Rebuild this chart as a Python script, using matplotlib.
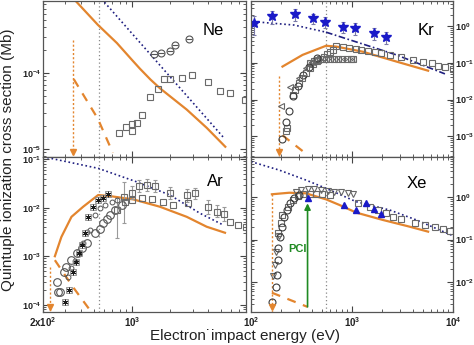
import matplotlib
matplotlib.use('Agg')
import matplotlib.pyplot as plt
from matplotlib.ticker import LogLocator, NullFormatter

plt.rcParams['font.family'] = ['Liberation Sans', 'DejaVu Sans']
plt.rcParams['mathtext.fontset'] = 'custom'
plt.rcParams['mathtext.rm'] = 'Liberation Sans'
plt.rcParams['mathtext.bf'] = 'Liberation Sans:bold'

ORANGE = '#e3852e'
NAVY = '#1f1f80'
BLUE = '#1a1ac8'
SQ_GRAY = '#6a6a6a'
DARK = '#3c3c3c'
GREEN = '#1f8a22'
E_MARK = 550          # gray dotted reference energy (eV)

# ---------------- Ne ----------------
ne_thr, ne_thr_top = 345, 2.7e-4
ne_solid_E = [330, 356, 540, 762, 1000, 1156, 1400, 1661, 2700, 3875, 5430]
ne_solid_s = [1.15e-3, 9.1e-4, 4.3e-4, 2.48e-4, 1.49e-4, 1.14e-4, 8.2e-5, 6.3e-5, 3.3e-5, 1.9e-5, 1.07e-5]
ne_dash_E = [349, 540, 708]
ne_dash_s = [8.3e-5, 2.5e-5, 8.9e-6]
ne_dot_E = [560, 5210]
ne_dot_s = [1.0e-3, 1.44e-5]
ne_circ_E = [1489, 1692, 1991, 2181, 2814]
ne_circ_s = [1.78e-4, 1.83e-4, 1.95e-4, 2.33e-4, 2.8e-4]
ne_sq_E = [794, 897, 995, 995, 1089, 1191, 1386, 1593, 1787, 1991, 2489, 2986, 3990, 4930, 5910, 7760]
ne_sq_s = [1.64e-5, 1.93e-5, 2.13e-5, 1.74e-5, 2.22e-5, 2.8e-5, 4.87e-5, 6.1e-5, 8.26e-5, 8.3e-5,
           8.7e-5, 9.4e-5, 7.5e-5, 5.85e-5, 5.5e-5, 4.4e-5]

# ---------------- Kr ----------------
kr_thr, kr_thr_top = 190, 0.043
kr_star_E = [107, 161, 270, 408, 545, 823, 1083, 1637, 2188]
kr_star_s = [1.23, 1.86, 2.11, 1.61, 1.31, 0.96, 0.87, 0.64, 0.50]
kr_star_err = [0.65, 0.7, 0.7, 0.5, 0.4, 0.33, 0.3, 0.22, 0.17]
kr_dot_E = [107, 268, 553]
kr_dot_s = [1.31, 1.06, 0.68]
kr_dd_E = [553, 2750, 8320]
kr_dd_s = [0.68, 0.164, 0.050]
kr_solid_E = [205, 324, 553, 697, 1279, 2754, 5670]
kr_solid_s = [0.079, 0.164, 0.29, 0.276, 0.20, 0.108, 0.061]
kr_dash_E = [205, 324]
kr_dash_s = [1.07e-3, 4.0e-4]
kr_sq_E = [697, 810, 944, 1101, 1235, 1437, 1675, 1954, 2363, 3090, 4030, 5060, 6140, 7140, 8320, 10070]
kr_sq_s = [0.294, 0.276, 0.259, 0.234, 0.225, 0.211, 0.195, 0.183, 0.165, 0.148, 0.12, 0.108,
           0.098, 0.083, 0.079, 0.069]
kr_sq2_E = [221, 226, 258, 274, 300, 322, 353, 386, 414, 454, 486, 532, 570, 612, 654]
kr_sq2_s = [1.4e-3, 1.7e-3, 0.0137, 0.0186, 0.0288, 0.039, 0.054, 0.073, 0.094, 0.113, 0.128,
            0.145, 0.175, 0.198, 0.224]
kr_circ_E = [205, 224, 239, 262, 289, 329, 378, 447]
kr_circ_s = [8.3e-4, 2.5e-3, 4.8e-3, 0.0123, 0.0229, 0.0474, 0.079, 0.134]
kr_tri_E = [198, 244, 296, 350, 405]
kr_tri_s = [6.6e-3, 0.022, 0.0386, 0.072, 0.106]
kr_xsq_E = [380, 420, 460, 505, 555, 610, 670, 735, 805, 885, 970, 1030]
kr_xsq_s = [0.1, 0.115, 0.122, 0.126, 0.127, 0.127, 0.127, 0.127, 0.127, 0.127, 0.127, 0.127]

# ---------------- Ar ----------------
ar_thr, ar_thr_top = 226, 6.1e-4
ar_dot_E = [200, 543, 1089, 1991, 3430, 5240]
ar_dot_s = [0.113, 0.065, 0.0343, 0.0183, 7.7e-3, 4.4e-3]
ar_solid_E = [248, 279, 335, 414, 543, 671, 1024, 1660, 2700, 3875, 5400]
ar_solid_s = [1.0e-3, 2.5e-3, 6.5e-3, 0.0105, 0.0183, 0.0174, 0.0149, 0.0105, 6.5e-3, 4.06e-3, 3.05e-3]
ar_dash_E = [248, 345, 467]
ar_dash_s = [8.3e-4, 2.3e-4, 7.8e-5]
ar_sqA_E = [758, 865, 995, 1141, 1305, 1518, 1991, 2700, 3130, 3990, 4650, 5300]
ar_sqA_s = [9.0e-3, 0.0169, 0.0198, 0.028, 0.0294, 0.028, 0.0198, 0.0183, 0.0198, 0.0105, 8.3e-3, 7.3e-3]
ar_sqA_lo = [0.0066, 0.012, 0.005, 0.007, 0.007, 0.007, 0.005, 0.005, 0.005, 0.003, 0.002, 0.002]
ar_sqA_hi = [0.0070, 0.017, 0.008, 0.009, 0.009, 0.009, 0.007, 0.006, 0.006, 0.004, 0.003, 0.003]
ar_sqB_E = [881, 995, 1191, 1429, 1763, 2113, 2775, 5910, 6870, 7900]
ar_sqB_s = [0.0133, 0.0144, 0.0156, 0.0149, 0.0133, 0.0114, 0.0123, 5.1e-3, 4.5e-3, 4.0e-3]
ar_circ_E = [258, 263, 274, 290, 306, 335, 367, 402, 440, 511, 560, 594, 632, 671, 735, 830]
ar_circ_s = [3.0e-4, 1.8e-4, 1.8e-4, 4.8e-4, 6.1e-4, 8.4e-4, 1.15e-3, 1.46e-3, 1.85e-3, 2.97e-3,
             3.6e-3, 4.8e-3, 5.8e-3, 7.1e-3, 9.0e-3, 0.0114]
ar_ast_E = [297, 321, 345, 362, 385, 402, 427, 453, 496, 543, 594, 651]
ar_ast_s = [1.15e-4, 2.0e-4, 4.8e-4, 7.6e-4, 1.15e-3, 1.7e-3, 3.0e-3, 6.5e-3, 0.0105, 0.0144, 0.0156, 0.0189]
ar_sc_E = [315, 335, 356, 381, 409, 440, 468, 511, 560, 616, 692, 766]
ar_sc_s = [3.8e-4, 5.6e-4, 7.9e-4, 1.1e-3, 1.85e-3, 3.1e-3, 3.5e-3, 7.1e-3, 9.7e-3, 0.0114, 0.0133, 0.0144]

# ---------------- Xe ----------------
xe_thr, xe_thr_top = 161, 1.16
xe_dot_E = [100, 190, 350, 553, 1100, 2360, 4350, 9800]
xe_dot_s = [6.8, 4.3, 2.5, 1.6, 0.775, 0.494, 0.288, 0.125]
xe_solid_E = [161, 239, 350, 553, 751, 1100, 2024, 3730, 5670]
xe_solid_s = [1.16, 1.26, 1.22, 0.88, 0.65, 0.43, 0.288, 0.2, 0.153]
xe_dash_E = [161, 363]
xe_dash_s = [5.6e-3, 2.6e-3]
xe_pci_E, xe_pci_lo, xe_pci_hi = 363, 2.6e-3, 0.71
xe_btri_E = [364, 841, 1100, 1362, 1637, 1950]
xe_btri_s = [0.93, 0.65, 0.494, 0.71, 0.51, 0.40]
xe_sq_E = [1143, 1493, 1806, 2188, 2546, 3090, 4190, 5260, 6620, 8000, 9330]
xe_sq_s = [0.73, 0.59, 0.494, 0.41, 0.333, 0.30, 0.24, 0.22, 0.2, 0.177, 0.161]
xe_sq2_E = [186, 197, 205, 230, 258, 289, 330, 380, 440, 510, 600]
xe_sq2_s = [0.14, 0.24, 0.377, 0.59, 0.85, 1.05, 1.15, 1.18, 1.18, 1.15, 1.1]
xe_dtri_E = [166, 172, 178, 190, 278, 312, 363, 424, 494, 575, 670, 781, 909, 1018]
xe_dtri_s = [0.0139, 0.025, 0.05, 0.12, 1.33, 1.46, 1.52, 1.52, 1.46, 1.41, 1.33, 1.29, 1.22, 1.16]
xe_circ_E = [163, 176, 180, 184, 187, 193, 202, 213, 225, 243, 268, 300]
xe_circ_s = [3.4e-3, 7.8e-3, 0.0146, 0.033, 0.062, 0.116, 0.2, 0.34, 0.494, 0.71, 0.93, 1.11]

W, H = 474, 345
fig = plt.figure(figsize=(W / 100, H / 100), dpi=100)


def panel(x0, x1, y0, y1):
    return fig.add_axes([x0 / W, 1 - y1 / H, (x1 - x0) / W, (y1 - y0) / H])


ax_ne = panel(43, 246, 1, 156.5)
ax_kr = panel(251, 453, 1, 156.5)
ax_ar = panel(43, 246, 156.5, 312)
ax_xe = panel(251, 453, 156.5, 312)


def sup(e):
    return r'$\mathbf{10^{%d}}$' % e


def style(ax, xlim, ylim, decades, right, bottom, xt, xtl):
    ax.set_xscale('log')
    ax.set_yscale('log')
    ax.set_xlim(*xlim)
    ax.set_ylim(*ylim)
    ax.set_yticks([10.0 ** d for d in decades])
    ax.set_yticklabels([sup(d) for d in decades])
    ax.yaxis.set_minor_locator(LogLocator(base=10, subs=range(2, 10), numticks=20))
    ax.yaxis.set_minor_formatter(NullFormatter())
    ax.set_xticks(xt)
    ax.set_xticklabels(xtl)
    ax.xaxis.set_minor_locator(LogLocator(base=10, subs=range(2, 10), numticks=20))
    ax.xaxis.set_minor_formatter(NullFormatter())
    ax.tick_params(which='both', direction='in', top=True, right=True, left=True,
                   colors='#444', labelcolor='#222')
    ax.tick_params(which='major', length=4, width=0.8)
    ax.tick_params(which='minor', length=2, width=0.6)
    ax.tick_params(axis='x', labelsize=7, pad=2.5)
    ax.tick_params(axis='y', labelsize=6.5, pad=1.5)
    ax.tick_params(labelleft=not right, labelright=right, labelbottom=bottom)
    for s in ax.spines.values():
        s.set_color('#555')
        s.set_linewidth(0.9)
    ax.axvline(E_MARK, color='#888', ls=(0, (1, 2)), lw=0.9, zorder=1)


def threshold(ax, e, top):
    ax.plot([e, e], [top, ax.get_ylim()[0]], color=ORANGE, ls=(0, (1.5, 1.5)), lw=1.0, zorder=2)
    ax.plot([e], [0.03], marker='v', ms=4.5, color=ORANGE, transform=ax.get_xaxis_transform(),
            clip_on=False, zorder=3)


sq = dict(ls='none', marker='s', ms=4.6, mfc='none', mec=SQ_GRAY, mew=0.8)
oc = dict(ls='none', marker='o', ms=5, mfc='none', mec=DARK, mew=0.8)

left_xt, left_xtl = [200, 1000], [r'$\mathbf{2x10^{2}}$', sup(3)]
right_xt, right_xtl = [100, 1000, 10000], [sup(2), sup(3), sup(4)]

# Ne
style(ax_ne, (200, 7900), (7.96e-6, 8.85e-4), [-5, -4], False, False, left_xt, left_xtl)
ax_ne.plot(ne_dot_E, ne_dot_s, color=NAVY, ls=(0, (1, 1.6)), lw=1.2)
ax_ne.plot(ne_solid_E, ne_solid_s, color=ORANGE, lw=1.6)
ax_ne.plot(ne_dash_E, ne_dash_s, color=ORANGE, lw=1.6, ls=(0, (4, 3.5)))
threshold(ax_ne, ne_thr, ne_thr_top)
ax_ne.plot(ne_sq_E, ne_sq_s, **sq)
ax_ne.plot(ne_circ_E, ne_circ_s, **dict(oc, mec='#555'))
ax_ne.plot(ne_circ_E, ne_circ_s, ls='none', marker='_', ms=5, mec='#555', mew=0.8)
ax_ne.text(0.837, 0.81, 'Ne', transform=ax_ne.transAxes, fontsize=12, ha='center', va='center')

# Kr
style(ax_kr, (100, 1e4), (2.84e-4, 4.78), [-3, -2, -1, 0], True, False, right_xt, right_xtl)
ax_kr.plot(kr_dot_E, kr_dot_s, color=NAVY, ls=(0, (1, 1.6)), lw=1.2)
ax_kr.plot(kr_dd_E, kr_dd_s, color=NAVY, ls=(0, (4, 1.5, 1, 1.5)), lw=1.2)
ax_kr.plot(kr_solid_E, kr_solid_s, color=ORANGE, lw=1.6)
ax_kr.plot(kr_dash_E, kr_dash_s, color=ORANGE, lw=1.6, ls=(0, (4, 3.5)))
threshold(ax_kr, kr_thr, kr_thr_top)
ax_kr.errorbar(kr_star_E, kr_star_s, yerr=kr_star_err, fmt='*', ms=7, color=BLUE,
               ecolor='#7a7aa8', elinewidth=0.8, capsize=1.5, capthick=0.8)
ax_kr.plot(kr_sq_E, kr_sq_s, **sq)
ax_kr.plot(kr_sq2_E, kr_sq2_s, **sq)
ax_kr.plot(kr_xsq_E, kr_xsq_s, **sq)
ax_kr.plot(kr_xsq_E, kr_xsq_s, ls='none', marker='x', ms=3.2, mec=SQ_GRAY, mew=0.6)
ax_kr.plot(kr_circ_E, kr_circ_s, **oc)
ax_kr.plot(kr_tri_E, kr_tri_s, ls='none', marker='<', ms=5, mfc='none', mec='#666', mew=0.8)
ax_kr.text(0.866, 0.81, 'Kr', transform=ax_kr.transAxes, fontsize=12, ha='center', va='center')

# Ar
style(ax_ar, (200, 7900), (7.08e-5, 0.114), [-4, -3, -2, -1], False, True, left_xt, left_xtl)
ax_ar.plot(ar_dot_E, ar_dot_s, color=NAVY, ls=(0, (1, 1.6)), lw=1.2)
ax_ar.plot(ar_solid_E, ar_solid_s, color=ORANGE, lw=1.6)
ax_ar.plot(ar_dash_E, ar_dash_s, color=ORANGE, lw=1.6, ls=(0, (4, 3.5)))
threshold(ax_ar, ar_thr, ar_thr_top)
ax_ar.errorbar(ar_sqA_E, ar_sqA_s, yerr=[ar_sqA_lo, ar_sqA_hi], fmt='s', ms=4.6, mfc='none',
               mec=SQ_GRAY, mew=0.8, ecolor='#9a9a9a', elinewidth=0.8, capsize=1.5)
ax_ar.plot(ar_sqB_E, ar_sqB_s, **sq)
ax_ar.plot(ar_circ_E, ar_circ_s, ls='none', marker='o', ms=5.5, mfc='none', mec='#555', mew=0.8)
ax_ar.plot(ar_sc_E, ar_sc_s, ls='none', marker='o', ms=3.5, mfc='none', mec='#555', mew=0.7)
ax_ar.plot(ar_ast_E, ar_ast_s, ls='none', marker='s', ms=4.6, mfc='none', mec='#8a8a8a', mew=0.6)
ax_ar.plot(ar_ast_E, ar_ast_s, ls='none', marker=(6, 2, 0), ms=4, mec='#1a1a1a', mew=0.7)
ax_ar.text(0.847, 0.838, 'Ar', transform=ax_ar.transAxes, fontsize=12, ha='center', va='center')

# Xe
style(ax_xe, (100, 1e4), (1.97e-3, 8.97), [-2, -1, 0], True, True, right_xt, right_xtl)
ax_xe.plot(xe_dot_E, xe_dot_s, color=NAVY, ls=(0, (1, 1.6)), lw=1.2)
ax_xe.plot(xe_solid_E, xe_solid_s, color=ORANGE, lw=1.6)
ax_xe.plot(xe_dash_E, xe_dash_s, color=ORANGE, lw=1.6, ls=(0, (4, 3.5)))
threshold(ax_xe, xe_thr, xe_thr_top)
ax_xe.plot(xe_sq_E, xe_sq_s, **sq)
ax_xe.plot(xe_sq2_E, xe_sq2_s, **sq)
ax_xe.plot(xe_dtri_E, xe_dtri_s, ls='none', marker='v', ms=5, mfc='none', mec='#666', mew=0.8)
ax_xe.plot(xe_circ_E, xe_circ_s, **oc)
ax_xe.plot(xe_btri_E, xe_btri_s, ls='none', marker='^', ms=5, color=BLUE)
ax_xe.annotate('', xy=(xe_pci_E, xe_pci_hi), xytext=(xe_pci_E, xe_pci_lo),
               arrowprops=dict(arrowstyle='-|>', color=GREEN, lw=1.2, mutation_scale=9,
                               shrinkA=0, shrinkB=0))
ax_xe.text(289, 0.059, 'PCI', color=GREEN, fontsize=8, fontweight='bold', ha='center', va='center')
ax_xe.text(0.82, 0.828, 'Xe', transform=ax_xe.transAxes, fontsize=12, ha='center', va='center')

fig.text(8 / W, 1 - 160 / H, 'Quintuple ionization cross section (Mb)', rotation=90,
         fontsize=11, ha='center', va='center', color='#222')
fig.text(245 / W, 1 - 336 / H, 'Electron\u02d9impact energy (eV)', fontsize=11,
         ha='center', va='center', color='#222')

fig.savefig('out.png', dpi=100)
